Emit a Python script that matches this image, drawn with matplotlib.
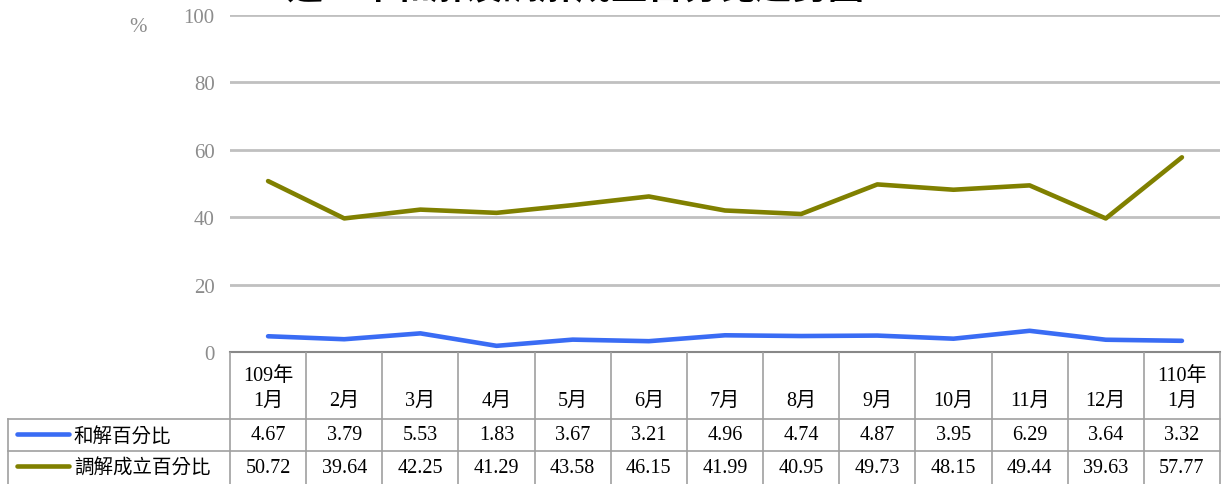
import numpy as np
import matplotlib.pyplot as plt

plt.rcParams['font.family'] = ['Liberation Serif', 'Noto Sans CJK TC', 'DejaVu Sans']

months = ["109年\n1月", "2月", "3月", "4月", "5月", "6月", "7月", "8月",
          "9月", "10月", "11月", "12月", "110年\n1月"]
settle_pct = [4.67, 3.79, 5.53, 1.83, 3.67, 3.21, 4.96, 4.74, 4.87, 3.95, 6.29, 3.64, 3.32]
mediate_pct = [50.72, 39.64, 42.25, 41.29, 43.58, 46.15, 41.99, 40.95, 49.73, 48.15, 49.44, 39.63, 57.77]
series_names = ["和解百分比", "調解成立百分比"]
colors = ["#3a6cf4", "#808000"]
title = "近一年和解及調解成立百分比趨勢圖"

W, H = 1222, 485
fig = plt.figure(figsize=(W / 100, H / 100), dpi=100)

# plot area in pixels
x0, x1 = 230, 1220
y_top, y_bot = 16, 353
ax = fig.add_axes([x0 / W, 1 - y_bot / H, (x1 - x0) / W, (y_bot - y_top) / H])
x = np.arange(len(months))
ax.plot(x, settle_pct, color=colors[0], lw=3.3, solid_joinstyle='round', solid_capstyle='round', zorder=3)
ax.plot(x, mediate_pct, color=colors[1], lw=3.3, solid_joinstyle='round', solid_capstyle='round', zorder=3)
ax.set_xlim(-0.5, len(months) - 0.5)
ax.set_ylim(0, 100)
ax.set_yticks(range(0, 101, 20))
ax.set_xticks([])
ax.grid(axis='y', color='#c0c0c0', lw=2)
ax.set_axisbelow(True)
for s in ax.spines.values():
    s.set_visible(False)
ax.tick_params(axis='y', length=0, pad=11, labelsize=15, labelcolor='#8c8c8c')
ax.patch.set_alpha(0)

fig.text(138 / W, 1 - 28 / H, "%", color='#8c8c8c', fontsize=15, ha='center', va='center')
fig.text(575 / W, 1 - 6 / H, title, fontsize=26, fontweight='bold', ha='center', va='bottom',
         family=['Noto Sans CJK TC'])

# data table below, in pixel coordinates
tab = fig.add_axes([0, 0, 1, 1 - y_bot / H + 0.0001])
tab.set_xlim(0, W)
tab.set_ylim(0, H - y_bot)
tab.axis('off')
n = len(months)
cw = (x1 - x0) / n
h_top = H - y_bot           # 132
r1_top = h_top - 67         # 65
r2_top = r1_top - 32        # 33
lx = 8
lc = '#a0a0a0'
tab.plot([x0, x1], [h_top, h_top], color='#888888', lw=1.5, clip_on=False)
tab.plot([lx, x1], [r1_top, r1_top], color=lc, lw=1.2)
tab.plot([lx, x1], [r2_top, r2_top], color=lc, lw=1.2)
tab.plot([lx, lx], [0, r1_top], color=lc, lw=1.2)
for i in range(n + 1):
    xx = x0 + i * cw
    tab.plot([xx, xx], [0, h_top], color=lc, lw=1.2)
for i, m in enumerate(months):
    cx = x0 + (i + 0.5) * cw
    tab.text(cx, r1_top + 9, m, ha='center', va='bottom', fontsize=14.5, linespacing=1.45)
    tab.text(cx, (r1_top + r2_top) / 2, f"{settle_pct[i]:.2f}", ha='center', va='center', fontsize=14.5)
    tab.text(cx, r2_top / 2, f"{mediate_pct[i]:.2f}", ha='center', va='center', fontsize=14.5)
for k, name in enumerate(series_names):
    cy = (r1_top + r2_top) / 2 if k == 0 else r2_top / 2
    tab.plot([17, 69], [cy + 1, cy + 1], color=colors[k], lw=3.3, solid_capstyle='round')
    tab.text(74, cy, name, ha='left', va='center', fontsize=14)

fig.savefig("out.png", dpi=100)
